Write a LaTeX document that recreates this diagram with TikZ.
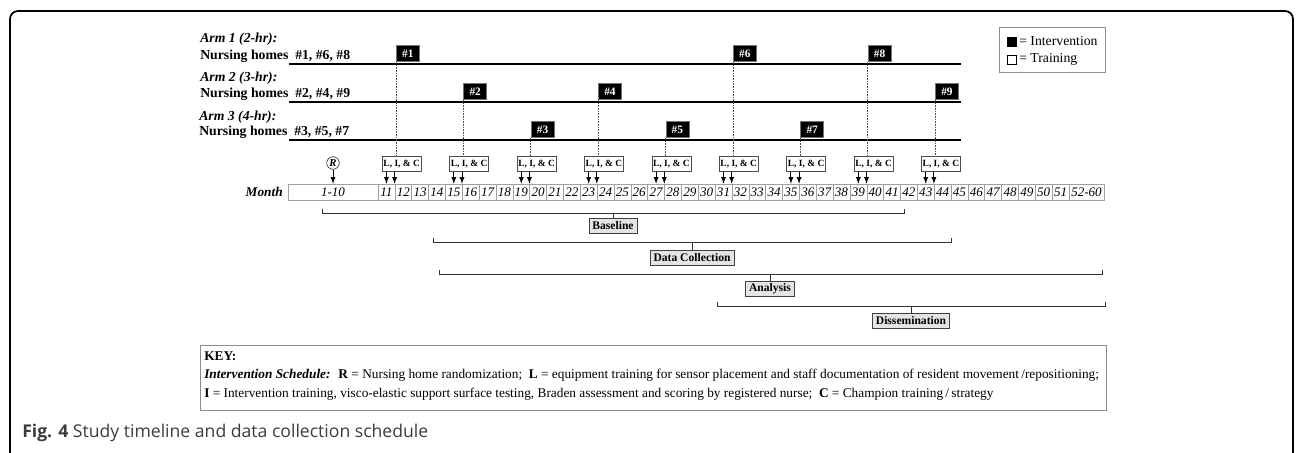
\documentclass[tikz,border=0pt]{standalone}
\usepackage{fontspec}
\setmainfont{Liberation Serif}
\newfontfamily\capfont{Open Sans}
\usepackage{tikz}
\tikzset{>=latex}
\usetikzlibrary{calc}
\definecolor{cellline}{RGB}{160,160,160}
\definecolor{phasefill}{RGB}{228,228,228}
\definecolor{capgray}{RGB}{60,60,60}

\begin{document}
\begin{tikzpicture}[x=0.75pt, y=-0.75pt]
            \tikzset{armline/.style={line width=0.9pt, black}}
            \tikzset{armlbl/.style={inner sep=0pt, font=\fontsize{10.3}{12}\selectfont\bfseries\itshape}}
            \tikzset{nhlbl/.style={inner sep=0pt, font=\fontsize{10.3}{12}\selectfont\bfseries}}
            \tikzset{home/.style={fill=black, draw=black!55, text=white, inner sep=0pt, minimum width=17.25pt, minimum height=12pt, font=\fontsize{8.5}{9}\selectfont\bfseries}}
            \tikzset{lic/.style={draw=black!70, fill=white, inner sep=0pt, minimum width=29.25pt, minimum height=11.25pt, font=\fontsize{7.1}{8}\selectfont\bfseries}}
            \tikzset{dropline/.style={black!70, line width=0.5pt, dash pattern=on 1.2pt off 0.8pt}}
            \tikzset{arrowline/.style={line width=0.75pt}}
            \tikzset{cell/.style={draw=cellline, line width=0.4pt, inner sep=0pt, minimum width=12.64pt, minimum height=12pt, font=\fontsize{9.8}{10}\selectfont\itshape}}
            \tikzset{bracket/.style={black!80, line width=0.6pt}}
            \tikzset{phase/.style={draw=black!75, fill=phasefill, inner sep=0pt, inner xsep=2.5pt, minimum height=11.25pt, font=\fontsize{8.7}{9}\selectfont\bfseries}}
            \tikzset{keytext/.style={inner sep=0pt, font=\fontsize{10}{11}\selectfont}}
            \useasboundingbox (0,0) rectangle (1296,453);
            % outer frame, open at the bottom
            \draw[line width=1.3pt, rounded corners=6pt] (10,11) rectangle (1293,490);
            % arms
            \node[armlbl, anchor=base west] (arm1) at (200,43) {Arm 1 (2-hr):};
            \node[nhlbl, anchor=base west] (nh1) at (200,60) {Nursing homes~ \#1, \#6, \#8};
            \node[armlbl, anchor=base west] (arm2) at (200,82) {Arm 2 (3-hr):};
            \node[nhlbl, anchor=base west] (nh2) at (200,98) {Nursing homes~ \#2, \#4, \#9};
            \node[armlbl, anchor=base west] (arm3) at (199,120) {Arm 3 (4-hr):};
            \node[nhlbl, anchor=base west] (nh3) at (199,136) {Nursing homes~ \#3, \#5, \#7};
            \coordinate (l1a) at (289,64); \coordinate (l1b) at (961,64);
            \coordinate (l2a) at (289,102); \coordinate (l2b) at (961,102);
            \coordinate (l3a) at (289,140); \coordinate (l3b) at (961,140);
            \draw[armline] (l1a) -- (l1b);
            \draw[armline] (l2a) -- (l2b);
            \draw[armline] (l3a) -- (l3b);
            % legend
            \node[draw=black!45, minimum width=79.5pt, minimum height=33.75pt, inner sep=0pt] (legend) at (1052,49.5) {};
            \node[fill=black, draw=black, inner sep=0pt, minimum size=7pt] (lsq1) at (1011.5,41.5) {};
            \node[draw=black, fill=white, inner sep=0pt, minimum size=7pt] (lsq2) at (1011.5,59.5) {};
            \node[inner sep=0pt, anchor=west, font=\fontsize{10.3}{12}\selectfont] (ltx1) at (1019,41.5) {= Intervention};
            \node[inner sep=0pt, anchor=west, font=\fontsize{10.3}{12}\selectfont] (ltx2) at (1019,59.5) {= Training};
            % month row
            \node[anchor=east, inner sep=0pt, font=\fontsize{10}{11}\selectfont\bfseries\itshape] (month) at (283,192) {Month};
            \node[cell, minimum width=67.5pt] (m1) at (333,192) {1-10};
            \foreach \n in {11,...,51}
                \node[cell] (m\n) at ({386.43+(\n-11)*16.854},192) {\n};
            \node[cell, minimum width=26.25pt] (m52) at (1086.5,192) {52-60};
            % randomization
            \node[circle, draw, inner sep=0.7pt, font=\fontsize{8}{8}\selectfont\bfseries\itshape] (rand) at (333,163) {R};
            \draw[->, arrowline] (rand) -- (rand |- m1.north);
            % homes, training boxes and arrows
            \foreach \h/\y [count=\k from 0] in {1/64,2/102,3/140,4/102,5/140,6/64,7/140,8/64,9/102} {
                \pgfmathsetmacro\xh{396+67.4*\k}
                \pgfmathtruncatemacro\ma{11+4*\k}
                \pgfmathtruncatemacro\mb{12+4*\k}
                \node[home, anchor=south west] (h\h) at (\xh,\y-2) {\#\h};
                \node[lic, anchor=north west] (lic\h) at (\xh-14,156) {L, I, \& C};
                \draw[dropline] (h\h.south west) -- (h\h.south west |- lic\h.north);
                \draw[->, arrowline] (lic\h.south -| m\ma.north) -- (m\ma.north);
                \draw[->, arrowline] (lic\h.south -| m\mb.north west) -- (m\mb.north west);
            }
            % phases
            \coordinate (base-l) at (322,213); \coordinate (base-r) at (904,213);
            \node[phase] (base) at (613,226) {Baseline};
            \draw[bracket] ([yshift=3pt]base-l) -- (base-l) -- (base-r) -- ([yshift=3pt]base-r);
            \draw[bracket] (base.north) -- (base.north |- base-l);
            \coordinate (coll-l) at (433,242); \coordinate (coll-r) at (951,242);
            \node[phase] (coll) at (692,258) {Data Collection};
            \draw[bracket] ([yshift=3pt]coll-l) -- (coll-l) -- (coll-r) -- ([yshift=3pt]coll-r);
            \draw[bracket] (coll.north) -- (coll.north |- coll-l);
            \coordinate (anal-l) at (439,274); \coordinate (anal-r) at (1102,274);
            \node[phase] (anal) at (770,289) {Analysis};
            \draw[bracket] ([yshift=3pt]anal-l) -- (anal-l) -- (anal-r) -- ([yshift=3pt]anal-r);
            \draw[bracket] (anal.north) -- (anal.north |- anal-l);
            \coordinate (diss-l) at (717,306); \coordinate (diss-r) at (1105,306);
            \node[phase] (diss) at (911,321) {Dissemination};
            \draw[bracket] ([yshift=3pt]diss-l) -- (diss-l) -- (diss-r) -- ([yshift=3pt]diss-r);
            \draw[bracket] (diss.north) -- (diss.north |- diss-l);
            % key
            \node[draw=black!45, anchor=north west, inner sep=0pt, minimum width=679.5pt, minimum height=49pt] (key) at (200,345) {};
            \node[keytext, anchor=west] (keyhead) at (204,356) {\textbf{KEY:}};
            \node[keytext, anchor=west] (keyline1) at (204,375) {\textbf{\textit{Intervention Schedule:}}~ \textbf{R} = Nursing home randomization;~ \textbf{L} = equipment training for sensor placement and staff documentation of resident movement\,/repositioning;};
            \node[keytext, anchor=west] (keyline2) at (204,394) {\textbf{I} = Intervention training, visco-elastic support surface testing, Braden assessment and scoring by registered nurse;~ \textbf{C} = Champion training\,/\,strategy};
            % caption
            \node[anchor=west, inner sep=0pt, text=capgray, font=\capfont\fontsize{13.2}{15}\selectfont] (caption) at (22,433) {\textbf{Fig. 4} Study timeline and data collection schedule};
\end{tikzpicture}
\end{document}
